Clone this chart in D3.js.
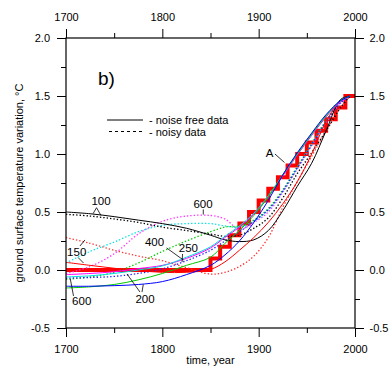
<!DOCTYPE html>
<html><head><meta charset="utf-8">
<script src="https://cdn.jsdelivr.net/npm/d3@7"></script>
<style>body{margin:0;background:#fff}svg{display:block}</style>
</head><body>
<script>
// ---------- data ----------
const years = [1700,1725,1750,1775,1800,1825,1850,1865,1880,1895,1910,1925,1940,1955,1970,1985,1995];
const black100Solid   = [.50,.485,.46,.43,.40,.36,.30,.26,.245,.26,.34,.51,.72,.92,1.20,1.47,1.50];
const black100Noisy   = [.48,.465,.44,.41,.37,.34,.31,.29,.30,.36,.45,.62,.83,1.01,1.20,1.40,1.50];
const red150Solid     = [.066,.04,.015,-.005,-.02,-.02,.005,.07,.17,.28,.41,.57,.76,1.0,1.28,1.46,1.5];
const red150Noisy     = [.28,.23,.17,.12,.08,.02,-.035,-.02,.03,.12,.28,.54,.76,.98,1.2,1.4,1.5];
const blue200Solid    = [-.14,-.14,-.135,-.125,-.10,-.04,.04,.13,.25,.41,.60,.82,1.01,1.18,1.34,1.46,1.5];
const blue200Noisy    = [-.07,-.065,-.055,-.03,.01,.08,.17,.25,.33,.42,.52,.68,.88,1.08,1.28,1.44,1.5];
const green250Solid   = [-.155,-.145,-.125,-.085,-.03,.04,.11,.23,.34,.47,.63,.82,1.0,1.17,1.33,1.46,1.5];
const green250Noisy   = [-.08,-.06,-.02,.06,.16,.25,.33,.37,.38,.43,.53,.69,.89,1.09,1.29,1.45,1.5];
const cyan400Solid    = [-.06,-.05,-.03,0,.035,.11,.20,.29,.38,.49,.64,.82,1.0,1.17,1.33,1.46,1.5];
const cyan400Noisy    = [.06,.16,.24,.33,.385,.40,.40,.38,.37,.42,.52,.68,.88,1.08,1.28,1.44,1.5];
const magenta600Solid = [-.04,-.03,-.015,.012,.04,.10,.19,.28,.37,.48,.63,.81,.99,1.16,1.32,1.45,1.5];
const magenta600Noisy = [-.03,.03,.14,.31,.42,.465,.47,.44,.35,.41,.50,.67,.87,1.07,1.27,1.44,1.5];

const stepYears  = [1700,1850,1860,1870,1880,1890,1900,1910,1920,1930,1940,1950,1960,1970,1980,1990,2000];
const stepValues = [0,0.1,0.2,0.3,0.4,0.5,0.6,0.7,0.8,0.9,1.0,1.1,1.2,1.3,1.4,1.5,1.5];

const xMajorTicks = [1700,1800,1900,2000];
const xMinorTicks = [1750,1850,1950];
const yMajorTicks = [-0.5,0,0.5,1.0,1.5,2.0];
const yMinorTicks = [-0.25,0.25,0.75,1.25,1.75];

// curve labels: [text, year, value]
const labelTexts  = ["100","150","600","200","400","250","600","A"];
const labelYears  = [1736.3,1711.1,1716.3,1782,1791.9,1827,1842.2,1911.4];
const labelValues = [0.56,0.121,-0.30,-0.284,0.211,0.151,0.534,0.978];
// leader lines: [year1, value1, year2, value2]
const leaderLines = [
  [1731.7,0.537,1728.1,0.486],[1731.7,0.537,1736.3,0.47],
  [1714.5,0.207,1719.7,0.259],[1712.5,0.108,1718.2,0.060],
  [1707.8,-0.224,1704.5,-0.078],
  [1776.8,-0.19,1763.3,-0.034],[1778.9,-0.19,1780.2,-0.125],
  [1804.5,0.19,1821.8,0.086],
  [1821,0.138,1820.5,0.069],
  [1842.5,0.522,1842.5,0.478],
  [1916.9,1.0,1926.8,0.927]
];

// ---------- drawing ----------
const W = 389, H = 371;
const FONT = "'Liberation Sans', Arial, Helvetica, sans-serif";
const x = d3.scaleLinear().domain([1700,2000]).range([66,355]);
const y = d3.scaleLinear().domain([-0.5,2.0]).range([328,38]);
const yFmt = d => d.toFixed(1);

const svg = d3.select("body").append("svg").attr("width",W).attr("height",H)
  .attr("font-family",FONT);

svg.append("defs").append("clipPath").attr("id","clip")
  .append("rect").attr("x",66).attr("y",38).attr("width",289).attr("height",290);

const plot = svg.append("g").attr("clip-path","url(#clip)");

// step function
const stepLine = d3.line().x((d,i)=>x(stepYears[i])).y(d=>y(d)).curve(d3.curveStepAfter);
plot.append("path").datum(stepValues).attr("d",stepLine)
  .attr("fill","none").attr("stroke","#ff0000").attr("stroke-width",4);

const line = d3.line().x((d,i)=>x(years[i])).y(d=>y(d)).curve(d3.curveCatmullRom.alpha(0.5));
const series = [
  [red150Noisy,"#ff3333",true],
  [magenta600Noisy,"#ff33ff",true],
  [cyan400Noisy,"#00e5e5",true],
  [green250Noisy,"#00cc00",true],
  [blue200Noisy,"#2222ff",true],
  [black100Noisy,"#000000",true],
  [black100Solid,"#000000",false],
  [red150Solid,"#ff0000",false],
  [magenta600Solid,"#ff00ff",false],
  [cyan400Solid,"#00dddd",false],
  [green250Solid,"#00c800",false],
  [blue200Solid,"#0000ff",false]
];
series.forEach(([vals,col,dotted])=>{
  plot.append("path").datum(vals).attr("d",line)
    .attr("fill","none").attr("stroke",col)
    .attr("stroke-width",dotted?1.3:1)
    .attr("stroke-dasharray",dotted?"1.4,2":null);
});

// leaders + labels
svg.append("g").selectAll("line").data(leaderLines).join("line")
  .attr("x1",d=>x(d[0])).attr("y1",d=>y(d[1]))
  .attr("x2",d=>x(d[2])).attr("y2",d=>y(d[3]))
  .attr("stroke","#000").attr("stroke-width",0.8);
svg.append("g").selectAll("text").data(labelTexts).join("text")
  .attr("x",(d,i)=>x(labelYears[i])).attr("y",(d,i)=>y(labelValues[i]))
  .attr("text-anchor","middle").attr("font-size",11.5).attr("fill","#000")
  .text(d=>d);

// axes
function styleAxis(g){
  g.select(".domain").remove();
  g.attr("font-family",FONT).attr("font-size",11);
  g.selectAll("line").attr("stroke","#000");
  g.selectAll("text").attr("fill","#000");
}
svg.append("g").attr("transform","translate(0,328)")
  .call(d3.axisBottom(x).tickValues(xMajorTicks).tickSize(9).tickPadding(8.5).tickFormat(d3.format("d"))).call(styleAxis);
svg.append("g").attr("transform","translate(0,328)")
  .call(d3.axisBottom(x).tickValues(xMinorTicks).tickSize(5).tickFormat("")).call(styleAxis);
svg.append("g").attr("transform","translate(0,38)")
  .call(d3.axisTop(x).tickValues(xMajorTicks).tickSize(9).tickPadding(8.3).tickFormat(d3.format("d"))).call(styleAxis);
svg.append("g").attr("transform","translate(0,38)")
  .call(d3.axisTop(x).tickValues(xMinorTicks).tickSize(5).tickFormat("")).call(styleAxis);
svg.append("g").attr("transform","translate(66,0)")
  .call(d3.axisLeft(y).tickValues(yMajorTicks).tickSize(9).tickPadding(7).tickFormat(yFmt)).call(styleAxis);
svg.append("g").attr("transform","translate(66,0)")
  .call(d3.axisLeft(y).tickValues(yMinorTicks).tickSize(5).tickFormat("")).call(styleAxis);
svg.append("g").attr("transform","translate(355,0)")
  .call(d3.axisRight(y).tickValues(yMajorTicks).tickSize(9).tickPadding(5.5).tickFormat(yFmt)).call(styleAxis);
svg.append("g").attr("transform","translate(355,0)")
  .call(d3.axisRight(y).tickValues(yMinorTicks).tickSize(5).tickFormat("")).call(styleAxis);

// frame
svg.append("rect").attr("x",66).attr("y",38).attr("width",289).attr("height",290)
  .attr("fill","none").attr("stroke","#000").attr("stroke-width",1.2);

// panel label
svg.append("text").attr("x",98).attr("y",85).attr("font-size",19).text("b)");

// legend
svg.append("line").attr("x1",107).attr("x2",143).attr("y1",120).attr("y2",120)
  .attr("stroke","#000").attr("stroke-width",1);
svg.append("line").attr("x1",109).attr("x2",143).attr("y1",131.5).attr("y2",131.5)
  .attr("stroke","#000").attr("stroke-width",1).attr("stroke-dasharray","3,3");
svg.append("text").attr("x",149).attr("y",124).attr("font-size",11).text("- noise free data");
svg.append("text").attr("x",149).attr("y",135.5).attr("font-size",11).text("- noisy data");

// axis titles
svg.append("text").attr("x",210.5).attr("y",364).attr("text-anchor","middle")
  .attr("font-size",11).text("time, year");
svg.append("text").attr("transform","translate(23,183) rotate(-90)").attr("text-anchor","middle")
  .attr("font-size",11).text("ground surface temperature variation, °C");
</script>
</body></html>
